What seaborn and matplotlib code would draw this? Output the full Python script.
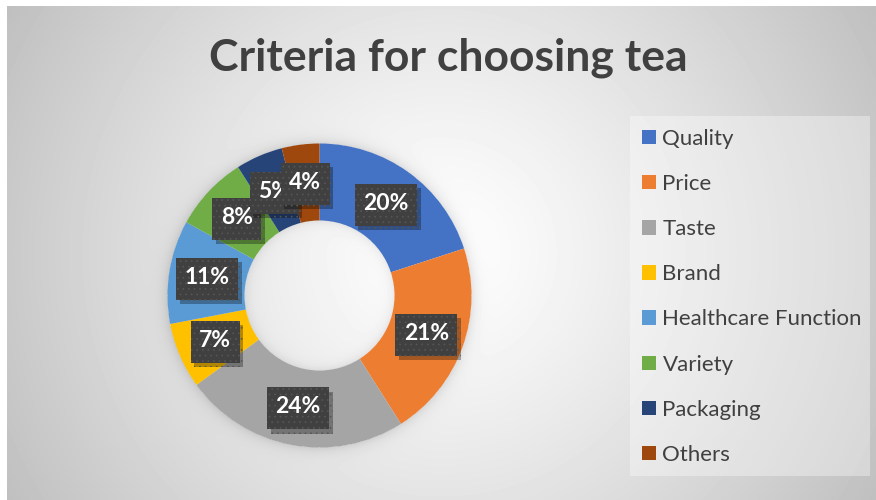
import numpy as np
import matplotlib
matplotlib.use("Agg")
import matplotlib.pyplot as plt
import matplotlib.patheffects as pe
from matplotlib.patches import Rectangle
from matplotlib.path import Path
import seaborn as sns

# Survey data: share of respondents naming each criterion
categories = ["Quality", "Price", "Taste", "Brand", "Healthcare Function",
              "Variety", "Packaging", "Others"]
shares = [20, 21, 24, 7, 11, 8, 5, 4]
colors = ["#4472C4", "#ED7D31", "#A5A5A5", "#FFC000", "#5B9BD5",
          "#70AD47", "#264478", "#9E480E"]
title = "Criteria for choosing tea"

sns.set_theme(style="white")
plt.rcParams["font.family"] = ["Lato", "DejaVu Sans"]
plt.rcParams["hatch.linewidth"] = 0.5

DPI = 100
W, H = 876, 500
fig = plt.figure(figsize=(W / DPI, H / DPI), dpi=DPI, facecolor="white")

# ---- chart-area background: radial grey gradient + soft ring shadow ----
x0, y0 = 7, 6
bw, bh = W - x0, H - y0
jj, ii = np.meshgrid(np.arange(bw) + x0 + 0.5, np.arange(bh) + y0 + 0.5)
cx, cy = x0 + bw / 2, y0 + bh / 2
d = np.hypot(jj - cx, ii - cy) / np.hypot(bw / 2, bh / 2)
bg = 1.0 - 0.25 * np.clip(d, 0, 1) ** 1.2

pcx, pcy, R, r = 319.5, 295.5, 152.0, 75.0
dr = np.hypot(jj - pcx, ii - pcy)
shadow = np.where(dr > R, 0.10 * np.exp(-(dr - R) / 6.0), 0.0)
shadow += np.where(dr < r, 0.07 * np.exp(-(r - dr) / 5.0), 0.0)
bg = np.clip(bg - shadow, 0, 1)

bg_ax = fig.add_axes([x0 / W, 0, bw / W, bh / H], zorder=-10)
bg_ax.imshow(bg, cmap="gray", vmin=0, vmax=1, aspect="auto",
             interpolation="bilinear")
bg_ax.set_axis_off()

# ---- title ----
fig.text(448 / W, 1 - 71 / H, title, ha="center", va="baseline",
         fontsize=32, fontweight="bold", color="#404040")


# label box: text width plus side padding, fixed 42 px height
def label_box(bx, by, width, height, mutation_size):
    half_w = width / 2 + 8.5 * DPI / 100
    half_h = 21 * DPI / 100
    mx = bx + width / 2
    my = by + height / 2 - 0.06 * mutation_size
    verts = [(mx - half_w, my - half_h), (mx + half_w, my - half_h),
             (mx + half_w, my + half_h), (mx - half_w, my + half_h),
             (mx - half_w, my - half_h)]
    return Path(verts, closed=True)


# ---- donut ----
ax = fig.add_axes([(pcx - R) / W, (H - pcy - R) / H, 2 * R / W, 2 * R / H])
wedges, _, autotexts = ax.pie(
    shares, colors=colors, startangle=90, counterclock=False, radius=1.0,
    wedgeprops=dict(width=1 - r / R, edgecolor="none", linewidth=0),
    autopct="%.0f%%", pctdistance=(R + r) / 2 / R,
)
ax.set_xlim(-1, 1)
ax.set_ylim(-1, 1)
ax.set_axis_off()
for t in autotexts:
    t.set_color("white")
    t.set_fontsize(16.5)
    t.set_fontweight("bold")
    t.set_bbox(dict(boxstyle=label_box, facecolor="#404040",
                    edgecolor="#565656", linewidth=0, hatch="..."))
    t.get_bbox_patch().set_path_effects([
        pe.SimplePatchShadow(offset=(2.5, -3), shadow_rgbFace="black",
                             alpha=0.3),
        pe.Normal(),
    ])

# ---- legend panel ----
fig.patches.append(Rectangle((630 / W, (H - 476) / H), 240 / W, 360 / H,
                             transform=fig.transFigure, facecolor="white",
                             alpha=0.35, edgecolor="none", zorder=0))
leg = fig.legend(wedges, categories, loc="upper left",
                 bbox_to_anchor=(642 / W, 1 - 129 / H), frameon=False,
                 fontsize=16, handlelength=0.62, handleheight=0.62,
                 handletextpad=0.3, labelspacing=1.13, borderpad=0,
                 borderaxespad=0)
for txt in leg.get_texts():
    txt.set_color("#404040")

fig.savefig("out.png", dpi=DPI, facecolor="white")
